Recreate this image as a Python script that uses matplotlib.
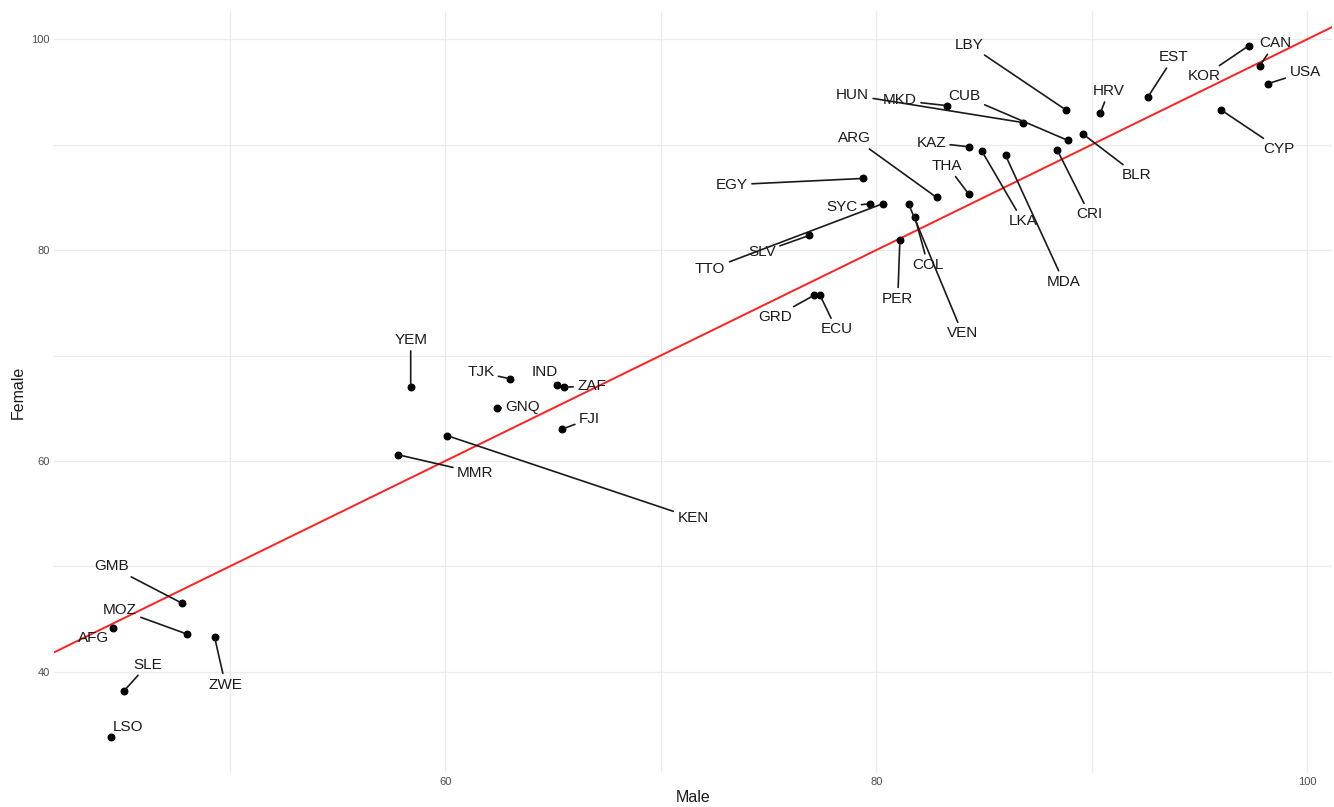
import matplotlib.pyplot as plt
import numpy as np

plt.rcParams['font.family'] = ['Liberation Sans', 'DejaVu Sans']

# country codes with male / female values
countries = ['LSO', 'SLE', 'AFG', 'GMB', 'MOZ', 'ZWE', 'YEM', 'MMR', 'KEN', 'TJK',
             'GNQ', 'IND', 'ZAF', 'FJI', 'GRD', 'ECU', 'EGY', 'SYC', 'TTO', 'SLV',
             'ARG', 'THA', 'PER', 'COL', 'VEN', 'KAZ', 'LKA', 'MDA', 'CRI', 'BLR',
             'CUB', 'HUN', 'MKD', 'LBY', 'HRV', 'EST', 'KOR', 'CAN', 'USA', 'CYP']
male = [44.5, 45.1, 44.6, 47.8, 48.0, 49.3, 58.4, 57.8, 60.1, 63.0,
        62.4, 65.2, 65.5, 65.4, 77.1, 77.4, 79.4, 79.7, 80.3, 76.9,
        82.8, 84.3, 81.1, 81.8, 81.5, 84.3, 84.9, 86.0, 88.4, 89.6,
        88.9, 86.8, 83.3, 88.8, 90.4, 92.6, 97.3, 97.8, 98.2, 96.0]
female = [33.8, 38.2, 44.2, 46.5, 43.6, 43.3, 67.0, 60.6, 62.4, 67.8,
          65.0, 67.2, 67.0, 63.0, 75.7, 75.7, 86.8, 84.4, 84.4, 81.4,
          85.0, 85.3, 81.0, 83.1, 84.4, 89.8, 89.4, 89.0, 89.5, 91.0,
          90.4, 92.1, 93.7, 93.3, 93.0, 94.5, 99.4, 97.5, 95.8, 93.3]

# where the repelled labels sit
label_pos = {
    'LSO': (45.3, 34.8), 'SLE': (46.2, 40.7), 'AFG': (43.7, 43.2), 'GMB': (44.5, 50.0),
    'MOZ': (44.9, 45.9), 'ZWE': (49.8, 38.8), 'YEM': (58.4, 71.5), 'MMR': (61.4, 58.9),
    'KEN': (71.5, 54.6), 'TJK': (61.65, 68.4), 'GNQ': (63.6, 65.1), 'IND': (64.6, 68.4),
    'ZAF': (66.8, 67.1), 'FJI': (66.7, 64.0), 'GRD': (75.3, 73.65), 'ECU': (78.15, 72.5),
    'EGY': (73.3, 86.2), 'SYC': (78.4, 84.1), 'TTO': (72.3, 78.2), 'SLV': (74.7, 79.8),
    'ARG': (79.0, 90.6), 'THA': (83.3, 88.0), 'PER': (81.0, 75.4), 'COL': (82.4, 78.6),
    'VEN': (84.0, 72.1), 'KAZ': (82.55, 90.2), 'LKA': (86.8, 82.75), 'MDA': (88.7, 77.0),
    'CRI': (89.9, 83.4), 'BLR': (92.1, 87.1), 'CUB': (84.1, 94.6), 'HUN': (78.9, 94.7),
    'MKD': (81.1, 94.2), 'LBY': (84.3, 99.5), 'HRV': (90.8, 95.1), 'EST': (93.8, 98.3),
    'KOR': (95.2, 96.5), 'CAN': (98.5, 99.6), 'USA': (99.9, 96.9), 'CYP': (98.7, 89.6),
}

fig = plt.figure(figsize=(13.34, 8.07), dpi=100)
ax = fig.add_axes([0.0405, 0.042, 0.958, 0.944])

ax.set_xlim(41.85, 101.15)
ax.set_ylim(30.4, 102.65)

# gridlines, minimal theme
for v in [50, 60, 70, 80, 90, 100]:
    ax.axvline(v, color='#ebebeb', lw=0.9, zorder=0)
for v in [40, 50, 60, 70, 80, 90, 100]:
    ax.axhline(v, color='#ebebeb', lw=0.9, zorder=0)

# identity line
ax.plot([40, 105], [40, 105], color='#ff2020', lw=1.4, zorder=2)

ax.scatter(male, female, s=22, color='black', zorder=4)

for c, x, y in zip(countries, male, female):
    tx, ty = label_pos[c]
    ax.annotate(c, xy=(x, y), xytext=(tx, ty), ha='center', va='center',
                fontsize=11, color='#1a1a1a', zorder=5,
                arrowprops=dict(arrowstyle='-', color='#1a1a1a', lw=1.2,
                                shrinkA=1, shrinkB=2))

ax.set_xticks([60, 80, 100])
ax.set_yticks([40, 60, 80, 100])
ax.tick_params(length=0, labelsize=8, labelcolor='#4d4d4d', pad=3)
for s in ax.spines.values():
    s.set_visible(False)

ax.set_xlabel('Male', fontsize=11.5, color='#1a1a1a', labelpad=2)
ax.set_ylabel('Female', fontsize=11.5, color='#1a1a1a', labelpad=4)

plt.savefig('out.png', dpi=100)
